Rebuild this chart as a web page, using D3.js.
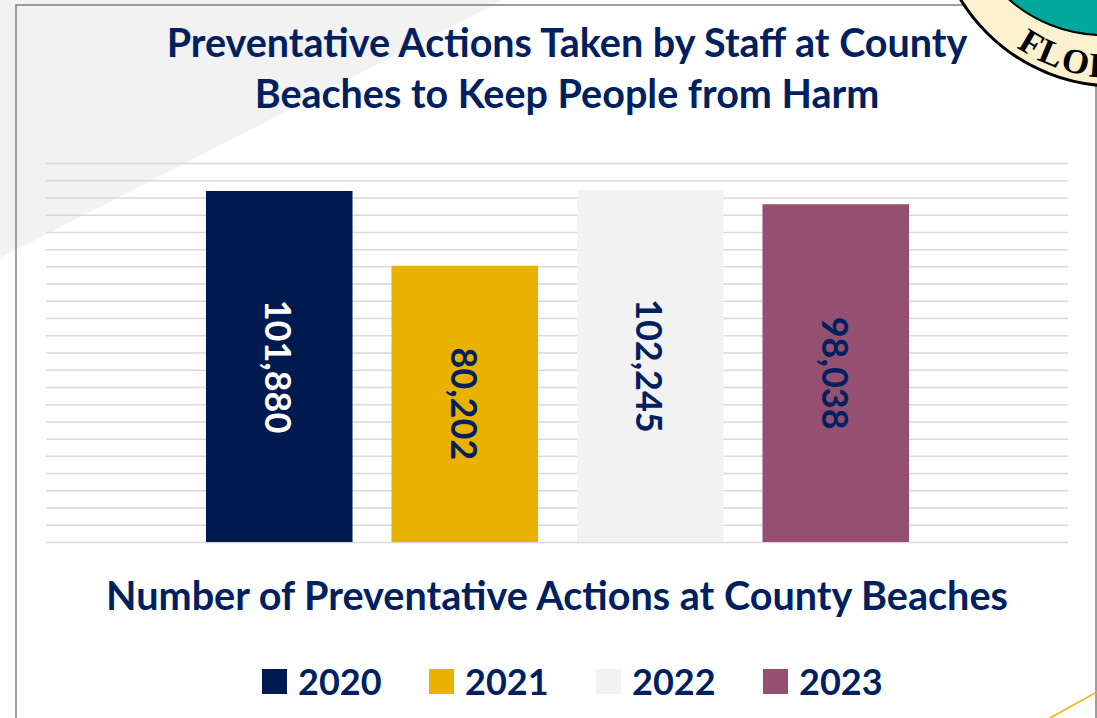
<!DOCTYPE html>
<html>
<head>
<meta charset="utf-8">
<script src="https://cdn.jsdelivr.net/npm/d3@7"></script>
<style>
  body { margin: 0; background: #fff; }
  svg { display: block; }
  text { font-family: Lato, "Open Sans", sans-serif; font-weight: 700; }
</style>
</head>
<body>
<div id="chart"></div>
<script>
// data
var years = ["2020", "2021", "2022", "2023"];
var actions = [101880, 80202, 102245, 98038];
var barColors = ["#001a4f", "#e9b200", "#f2f2f2", "#944f71"];
var labelColors = ["#ffffff", "#002060", "#002060", "#002060"];
var titleLines = ["Preventative Actions Taken by Staff at County", "Beaches to Keep People from Harm"];
var axisTitle = "Number of Preventative Actions at County Beaches";

var W = 1097, H = 718;
var navy = "#002060";

var svg = d3.select("#chart").append("svg")
  .attr("width", W)
  .attr("height", H);

// grey diagonal in the top-left corner of the slide
svg.append("path")
  .attr("d", "M0,0 L503,0 L0,258 Z")
  .attr("fill", "#f2f2f2");

// slide frame
svg.append("path")
  .attr("d", "M16,718 L16,5 L1000,5 M1096,60 L1096,718")
  .attr("fill", "none")
  .attr("stroke", "#7f7f7f")
  .attr("stroke-width", 1.5);

// yellow accent at the bottom right
svg.append("line")
  .attr("x1", 1050).attr("y1", 718)
  .attr("x2", 1097).attr("y2", 692)
  .attr("stroke", "#f0b400")
  .attr("stroke-width", 1.5);

// county seal peeking in from the corner
var seal = svg.append("g");
var cx = 1115, cy = -95;
seal.append("clipPath").attr("id", "sealClip")
  .append("circle").attr("cx", cx).attr("cy", cy).attr("r", 181);
seal.append("circle")
  .attr("cx", cx).attr("cy", cy).attr("r", 181)
  .attr("fill", "#fdf2d0")
  .attr("stroke", "#000").attr("stroke-width", 3);
seal.append("circle")
  .attr("clip-path", "url(#sealClip)")
  .attr("cx", cx - 12).attr("cy", cy - 12).attr("r", 142)
  .attr("fill", "#00a89d")
  .attr("stroke", "#000").attr("stroke-width", 2);
var rText = 173;
var a0 = 128 * Math.PI / 180, a1 = 20 * Math.PI / 180;
seal.append("path")
  .attr("id", "sealArc")
  .attr("fill", "none")
  .attr("d", "M" + (cx + rText * Math.cos(a0)) + "," + (cy + rText * Math.sin(a0)) +
    " A" + rText + "," + rText + " 0 0 0 " + (cx + rText * Math.cos(a1)) + "," + (cy + rText * Math.sin(a1)));
seal.append("text")
  .style("font-family", "'Liberation Serif', serif")
  .attr("font-size", 35)
  .attr("letter-spacing", 2)
  .attr("fill", "#000")
  .append("textPath")
  .attr("href", "#sealArc")
  .attr("startOffset", 10)
  .text("FLORIDA");

// chart title, scaled to the width it has on the slide
var title = svg.append("g").attr("fill", navy);
var t1 = title.append("text")
  .attr("x", 567).attr("y", 57)
  .attr("text-anchor", "middle")
  .attr("font-size", 30)
  .text(titleLines[0]);
var fs = 30 * 801 / t1.node().getComputedTextLength();
t1.attr("font-size", fs);
title.append("text")
  .attr("x", 567).attr("y", 108)
  .attr("text-anchor", "middle")
  .attr("font-size", fs)
  .text(titleLines[1]);

// scales
var x = d3.scaleBand()
  .domain(years)
  .range([186.5, 928.5])
  .paddingInner(0.21)
  .paddingOuter(0.105);

var y = d3.scaleLinear()
  .domain([0, 110000])
  .range([542, 163]);

// gridlines every 5,000
svg.append("g")
  .attr("transform", "translate(46,0)")
  .call(d3.axisLeft(y).ticks(22).tickSize(-1022).tickFormat(""))
  .call(function(g) { g.select(".domain").remove(); })
  .selectAll("line")
  .attr("stroke", "#d9d9d9")
  .attr("stroke-width", 1.5);

var data = years.map(function(d, i) {
  return { year: d, value: actions[i], color: barColors[i], label: labelColors[i] };
});

svg.selectAll(".bar")
  .data(data).enter()
  .append("rect").attr("class", "bar")
  .attr("x", function(d) { return x(d.year); })
  .attr("y", function(d) { return y(d.value); })
  .attr("width", x.bandwidth())
  .attr("height", function(d) { return y(0) - y(d.value); })
  .attr("fill", function(d) { return d.color; });

svg.selectAll(".val")
  .data(data).enter()
  .append("text").attr("class", "val")
  .attr("transform", function(d) {
    return "translate(" + (x(d.year) + x.bandwidth() / 2) + "," + ((y(d.value) + y(0)) / 2) + ") rotate(90)";
  })
  .attr("text-anchor", "middle")
  .attr("dominant-baseline", "central")
  .attr("font-size", 36)
  .attr("fill", function(d) { return d.label; })
  .text(function(d) { return d3.format(",")(d.value); });

// axis title
var at = svg.append("text")
  .attr("x", 557).attr("y", 610)
  .attr("text-anchor", "middle")
  .attr("font-size", 34)
  .attr("fill", navy)
  .text(axisTitle);
at.attr("font-size", 34 * 902 / at.node().getComputedTextLength());

// legend
var legend = svg.selectAll(".legend")
  .data(data).enter()
  .append("g").attr("class", "legend")
  .attr("transform", function(d, i) { return "translate(" + (262 + i * 167) + ",0)"; });

legend.append("rect")
  .attr("x", 0).attr("y", 669)
  .attr("width", 25).attr("height", 25)
  .attr("fill", function(d) { return d.color; });

legend.append("text")
  .attr("x", 36).attr("y", 695)
  .attr("font-size", 36)
  .attr("fill", navy)
  .text(function(d) { return d.year; });
</script>
</body>
</html>
